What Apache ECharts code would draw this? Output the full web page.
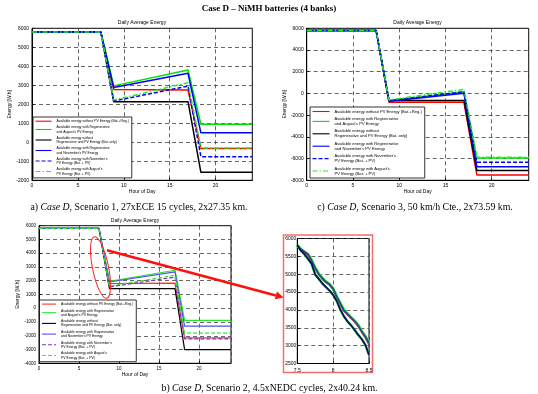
<!DOCTYPE html>
<html><head><meta charset="utf-8">
<script src="https://cdn.jsdelivr.net/npm/echarts@6/dist/echarts.min.js"></script>
<style>html,body{margin:0;padding:0;background:#fff}#c{width:538px;height:394px}</style>
</head><body><div id="c"></div>
<script>
// ---------------- DATA ----------------
// Legend texts (same order in all three charts)
const legendLabels = [
  'Available energy without PV Energy (Bat.+Reg.)',
  "Available energy with Regenerative\nand August's PV Energy",
  'Available energy without\nRegenerative and PV Energy (Bat. only)',
  "Available energy with Regenerative\nand November's PV Energy",
  "Available energy with November's\nPV Energy (Bat. + PV)",
  "Available energy with August's\nPV Energy (Bat. + PV)"
];

// a) Scenario 1
const hoursA = [0, 7.5, 8.9, 17, 18.4, 24];
const aRed       = [5800, 5800, 2780, 2750, -330, -330];
const aGreen     = [5800, 5800, 2970, 3800, 950, 950];
const aBlack     = [5800, 5800, 2140, 2140, -1580, -1580];
const aBlue      = [5800, 5800, 2880, 3630, 500, 500];
const aBlueDash  = [5800, 5800, 2170, 2960, -760, -760];
const aGreenDash = [5800, 5800, 2220, 3140, -300, -300];

// c) Scenario 3
const hoursC = [0, 7.5, 8.9, 17, 18.4, 24];
const cRed       = [5800, 5800, -820, -820, -7520, -7520];
const cGreen     = [5800, 5800, -680, 150, -5950, -5950];
const cBlack     = [5800, 5800, -640, -640, -7100, -7100];
const cBlue      = [5800, 5800, -720, 10, -6750, -6750];
const cBlueDash  = [5800, 5800, -660, 160, -6340, -6340];
const cGreenDash = [5800, 5800, -600, 380, -5880, -5880];

// b) Scenario 2
const hoursB = [0, 7.5, 8.8, 17, 18.2, 24];
const bRed       = [5800, 5800, 1800, 1820, -2150, -2150];
const bGreen     = [5800, 5800, 1960, 2760, -880, -880];
const bBlack     = [5800, 5800, 1430, 1430, -3000, -3000];
const bBlue      = [5800, 5800, 1910, 2640, -1300, -1300];
const bBlueDash  = [5800, 5800, 1550, 2270, -2220, -2220];
const bGreenDash = [5800, 5800, 1620, 2400, -1800, -1800];

// Inset (zoom of b between 7.5 h and 8.5 h)
const insetHours = [7.5, 7.55, 7.6, 7.65, 7.7, 7.75, 7.8, 7.85, 7.9, 7.95, 8.0,
                    8.05, 8.1, 8.15, 8.2, 8.25, 8.3, 8.35, 8.4, 8.45, 8.5];
const insetUpper = [5810, 5700, 5630, 5560, 5390, 5180, 5010, 4890, 4790, 4720, 4600,
                    4380, 4190, 4000, 3890, 3790, 3690, 3570, 3400, 3260, 3080];
const insetMid   = [5810, 5690, 5610, 5530, 5360, 5150, 4980, 4860, 4760, 4690, 4560,
                    4350, 4150, 3960, 3860, 3760, 3660, 3530, 3360, 3210, 3010];
const insetLower = [5810, 5660, 5560, 5430, 5290, 4990, 4870, 4740, 4640, 4540, 4420,
                    4250, 4010, 3820, 3680, 3570, 3440, 3300, 3180, 3020, 2740];

// ---------------- CHART ----------------
const SANS = 'Liberation Sans';
const SERIF = 'Liberation Serif';
const chart = echarts.init(document.getElementById('c'), null, {renderer: 'canvas'});

const styles = [
  {c: '#ff0000', t: 'solid'},
  {c: '#00e000', t: 'solid'},
  {c: '#000000', t: 'solid'},
  {c: '#0000ff', t: 'solid'},
  {c: '#0000ff', t: [4, 2]},
  {c: '#22ee22', t: [5, 2, 1.5, 2]}
];
const stylesB = [
  {c: '#ff3030', t: 'solid'},
  {c: '#30e030', t: 'solid'},
  {c: '#000000', t: 'solid'},
  {c: '#5050ee', t: 'solid'},
  {c: '#7a30d0', t: [4, 2]},
  {c: '#30ee30', t: [4, 2]}
];

const labelMap = {};
function mk(prefix, i, hrs, vals, gi, st, w) {
  const name = prefix + i;
  labelMap[name] = legendLabels[i];
  return {
    type: 'line', name: name, xAxisIndex: gi, yAxisIndex: gi,
    data: hrs.map((h, k) => [h, vals[k]]),
    symbol: 'none', silent: true, animation: false,
    lineStyle: {color: st.c, width: w, type: st.t},
    itemStyle: {color: st.c}
  };
}
function plain(prefix, hrs, vals, gi, color, w, z) {
  return {
    type: 'line', name: prefix, xAxisIndex: gi, yAxisIndex: gi, z: z,
    data: hrs.map((h, k) => [h, vals[k]]),
    symbol: 'none', silent: true, animation: false,
    lineStyle: {color: color, width: w}, itemStyle: {color: color}
  };
}

const seriesA = [aRed, aGreen, aBlack, aBlue, aBlueDash, aGreenDash];
const seriesC = [cRed, cGreen, cBlack, cBlue, cBlueDash, cGreenDash];
const seriesB = [bRed, bGreen, bBlack, bBlue, bBlueDash, bGreenDash];

const series = [];
seriesA.forEach((v, i) => series.push(mk('A', i, hoursA, v, 0, styles[i], 1.5)));
seriesC.forEach((v, i) => series.push(mk('C', i, hoursC, v, 1, styles[i], 1.5)));
seriesB.forEach((v, i) => series.push(mk('B', i, hoursB, v, 2, stylesB[i], 1.2)));
series.push(plain('I-gu', insetHours, insetUpper, 3, '#40ee40', 3, 2));
series.push(plain('I-gl', insetHours, insetLower, 3, '#40ee40', 2.6, 2));
series.push(plain('I-m', insetHours, insetMid, 3, '#c8287a', 1.3, 3));
series.push(plain('I-u', insetHours, insetUpper, 3, '#0a5878', 1.5, 4));
series.push(plain('I-l', insetHours, insetLower, 3, '#0c0c6a', 1.8, 4));

const gridBase = {show: true, backgroundColor: '#fff', borderColor: '#000', borderWidth: 1,
                  containLabel: false, outerBoundsMode: 'none'};
const grids = [
  Object.assign({left: 32, top: 28.3, width: 220.3, height: 152}, gridBase),
  Object.assign({left: 306.7, top: 28.3, width: 222, height: 152}, gridBase),
  Object.assign({left: 39, top: 225.7, width: 192, height: 137.6}, gridBase),
  Object.assign({left: 297.3, top: 238.5, width: 71.7, height: 125}, gridBase)
];

const split = {show: true, lineStyle: {color: '#404040', type: [4, 3], width: 0.8}};
function xAx(gi, min, max, interval, name, gap, fs, showMax) {
  return {
    type: 'value', gridIndex: gi, min: min, max: max, interval: interval,
    name: name, nameLocation: 'middle', nameGap: gap,
    nameTextStyle: {fontSize: 5, fontFamily: SANS, color: '#000'},
    axisLine: {show: true, onZero: false, lineStyle: {color: '#000', width: 1}},
    axisTick: {show: true, inside: true, length: 2.5, lineStyle: {color: '#000', width: 0.8}},
    axisLabel: {fontSize: fs, fontFamily: SANS, color: '#000', margin: 3,
                showMaxLabel: showMax, formatter: v => String(v)},
    splitLine: split
  };
}
function yAx(gi, min, max, interval, name, gap, fs) {
  return {
    type: 'value', gridIndex: gi, min: min, max: max, interval: interval,
    name: name, nameLocation: 'middle', nameGap: gap,
    nameTextStyle: {fontSize: 5, fontFamily: SANS, color: '#000'},
    axisLine: {show: true, onZero: false, lineStyle: {color: '#000', width: 1}},
    axisTick: {show: true, inside: true, length: 2.5, lineStyle: {color: '#000', width: 0.8}},
    axisLabel: {fontSize: fs, fontFamily: SANS, color: '#000', margin: 3, formatter: v => String(v)},
    splitLine: split
  };
}

function leg(prefix, left, top, fs, lh, gap, iw) {
  return {
    orient: 'vertical', left: left, top: top,
    data: [0, 1, 2, 3, 4, 5].map(i => prefix + i),
    formatter: n => labelMap[n],
    itemWidth: iw, itemHeight: 3, itemGap: gap,
    padding: [2, 3, 2, 2],
    backgroundColor: '#fff', borderColor: '#000', borderWidth: 0.8,
    itemStyle: {opacity: 0, borderWidth: 0},
    lineStyle: {width: 1.1},
    textStyle: {fontSize: fs, lineHeight: lh, fontFamily: SANS, color: '#000'},
    selectedMode: false, inactiveColor: '#000'
  };
}

function txt(x, y, text, fs, family, weight, rich) {
  const st = {text: text, x: 0, y: 0, fontSize: fs, fontFamily: family, fontWeight: weight || 'normal',
              fill: '#000', align: 'center', verticalAlign: 'middle'};
  if (rich) st.rich = rich;
  return {type: 'text', x: x, y: y, z: 50, style: st, silent: true};
}
const italic = {i: {fontStyle: 'italic', fontSize: 9.8, fontFamily: SERIF}};

// arrow geometry (decoration)
const tip = [283.6, 297.5], tail = [107, 250.3];
const dx = tip[0] - tail[0], dy = tip[1] - tail[1], L = Math.hypot(dx, dy);
const ux = dx / L, uy = dy / L, hl = 8, hw = 4;
const base = [tip[0] - ux * hl, tip[1] - uy * hl];

chart.setOption({
  animation: false,
  grid: grids,
  xAxis: [
    xAx(0, 0, 24, 5, 'Hour of Day', 8.5, 5, false),
    xAx(1, 0, 24, 5, 'Hour od Day', 8.5, 5, false),
    xAx(2, 0, 24, 5, 'Hour of Day', 7, 4.5, false),
    Object.assign(xAx(3, 7.5, 8.5, 0.5, '', 0, 5, true), {axisLabel: {fontSize: 5, fontFamily: SANS, color: '#000', margin: 4.5, formatter: v => String(v)}})
  ],
  yAxis: [
    yAx(0, -2000, 6000, 1000, 'Energy [W.h]', 19, 5),
    yAx(1, -8000, 6000, 2000, 'Energy [W.h]', 19, 5),
    yAx(2, -4000, 6000, 1000, 'Energy [W.h]', 16, 4.5),
    Object.assign(yAx(3, 2500, 6000, 500, '', 0, 5), {axisLabel: {fontSize: 5, fontFamily: SANS, color: '#000', margin: 1, formatter: v => String(v)}})
  ],
  legend: [
    leg('A', 33, 117, 3.4, 4.4, 1.7, 16),
    leg('C', 310, 107, 4.1, 5, 2.4, 17),
    leg('B', 39.5, 300, 3.4, 4.2, 2.3, 14)
  ],
  series: series,
  graphic: [
    {type: 'rect', z: -10, silent: true, shape: {x: 283.5, y: 235, width: 89, height: 137.5},
     style: {fill: '#fff', stroke: '#ee7070', lineWidth: 1.5}},
    {type: 'ellipse', x: 100.5, y: 267.5, rotation: 0.2, z: 60, silent: true,
     shape: {cx: 0, cy: 0, rx: 8, ry: 31.4}, style: {fill: 'none', stroke: '#ff2020', lineWidth: 1}},
    {type: 'line', z: 60, silent: true, shape: {x1: tail[0], y1: tail[1], x2: base[0], y2: base[1]},
     style: {stroke: '#ff1010', lineWidth: 2.6}},
    {type: 'polygon', z: 60, silent: true,
     shape: {points: [tip, [base[0] - uy * hw, base[1] + ux * hw], [base[0] + uy * hw, base[1] - ux * hw]]},
     style: {fill: '#ff1010'}},
    txt(269, 9, 'Case D – NiMH batteries (4 banks)', 9, SERIF, 'bold'),
    txt(142, 22.7, 'Daily Average Energy', 5, SANS),
    txt(417.5, 22.7, 'Daily Average Energy', 5, SANS),
    txt(135, 220.7, 'Daily Average Energy', 5, SANS),
    txt(139, 207, 'a) {i|Case D}, Scenario 1, 27xECE 15 cycles, 2x27.35 km.', 9.8, SERIF, 'normal', italic),
    txt(415, 207, 'c) {i|Case D}, Scenario 3, 50 km/h Cte., 2x73.59 km.', 9.8, SERIF, 'normal', italic),
    txt(269.5, 388.5, 'b) {i|Case D}, Scenario 2, 4.5xNEDC cycles, 2x40.24 km.', 9.8, SERIF, 'normal', italic)
  ]
});
</script>
</body></html>
